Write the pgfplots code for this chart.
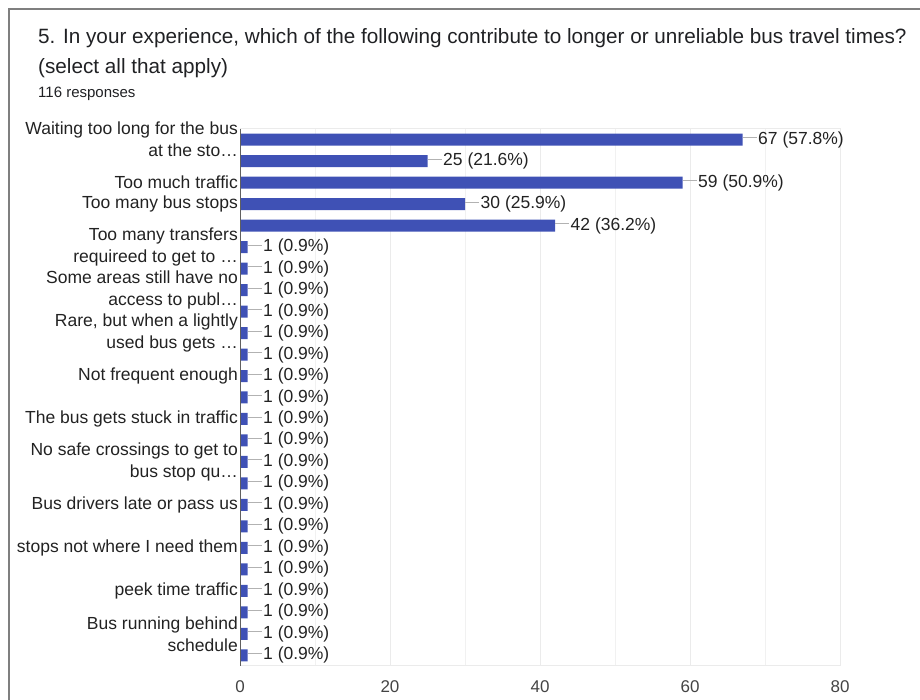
\documentclass[border=0pt]{standalone}
\usepackage{pgfplots}
\pgfplotsset{compat=1.18}
\usepackage{fontspec}
\setmainfont{Liberation Sans}
\definecolor{barblue}{HTML}{3F51B5}
\definecolor{titlecol}{HTML}{202124}
\definecolor{labcol}{HTML}{222222}
\definecolor{tickcol}{HTML}{444444}
\definecolor{gridcol}{HTML}{EBEBEB}
\definecolor{framecol}{HTML}{7F7F7F}
\begin{document}
\begin{tikzpicture}
\useasboundingbox (0pt,0pt) rectangle (920pt,700pt);
\draw[color=framecol, line width=2pt] (9pt,0pt) -- (9pt,691pt) -- (920pt,691pt);
\node[anchor=base west, inner sep=0pt, font=\fontsize{20.7}{22}\selectfont, text=titlecol] at (38pt,656pt) {5. In your experience, which of the following contribute to longer or unreliable bus travel times?};
\node[anchor=base west, inner sep=0pt, font=\fontsize{20.7}{22}\selectfont, text=titlecol] at (38pt,626pt) {(select all that apply)};
\node[anchor=base west, inner sep=0pt, font=\fontsize{15}{17}\selectfont, text=titlecol] at (38pt,602pt) {116 responses};
\begin{axis}[
  at={(240pt,34pt)}, anchor=south west,
  width=600pt, height=537pt, scale only axis,
  xbar, bar width=12pt,
  xmin=0, xmax=80, ymin=-0.5, ymax=24.5,
  xtick={0,20,40,60,80}, minor xtick={10,30,50,70},
  xmajorgrids, xminorgrids,
  major grid style={draw=gridcol, line width=1pt},
  minor grid style={draw=gridcol!70, line width=1pt},
  axis line style={draw=gridcol, line width=1pt},
  major tick length=0pt, minor tick length=0pt,
  /pgf/number format/assume math mode=true,
  xticklabel style={font=\fontsize{17}{19}\selectfont, text=tickcol, yshift=-11pt},
  ytick={1,3,5,7,9,11,13,15,17,19,21,22,24},
  yticklabels={{Bus running behind\\schedule},{peek time traffic},{stops not where I need them},{Bus drivers late or pass us},{No safe crossings to get to\\bus stop qu…},{The bus gets stuck in traffic},{Not frequent enough},{Rare, but when a lightly\\used bus gets …},{Some areas still have no\\access to publ…},{Too many transfers\\requireed to get to …},{Too many bus stops},{Too much traffic},{Waiting too long for the bus\\at the sto…}},
  yticklabel style={align=right, font=\fontsize{17.5}{22}\selectfont, text=labcol, inner sep=1pt, xshift=-1pt},
  point meta=explicit symbolic,
  nodes near coords={\textcolor{gray!60}{\rule[6pt]{14pt}{1pt}}\hspace{1.5pt}\pgfplotspointmeta},
  every node near coord/.append style={font=\fontsize{17.5}{19}\selectfont, text=labcol, anchor=west, inner sep=0pt, xshift=0pt},
  clip=false,
]
\addplot[fill=barblue, draw=none] coordinates {
(67,24) [67 (57.8\%)]
(25,23) [25 (21.6\%)]
(59,22) [59 (50.9\%)]
(30,21) [30 (25.9\%)]
(42,20) [42 (36.2\%)]
(1,19) [1 (0.9\%)]
(1,18) [1 (0.9\%)]
(1,17) [1 (0.9\%)]
(1,16) [1 (0.9\%)]
(1,15) [1 (0.9\%)]
(1,14) [1 (0.9\%)]
(1,13) [1 (0.9\%)]
(1,12) [1 (0.9\%)]
(1,11) [1 (0.9\%)]
(1,10) [1 (0.9\%)]
(1,9) [1 (0.9\%)]
(1,8) [1 (0.9\%)]
(1,7) [1 (0.9\%)]
(1,6) [1 (0.9\%)]
(1,5) [1 (0.9\%)]
(1,4) [1 (0.9\%)]
(1,3) [1 (0.9\%)]
(1,2) [1 (0.9\%)]
(1,1) [1 (0.9\%)]
(1,0) [1 (0.9\%)]
};
\draw[color=gray!75!black, line width=1pt] (axis cs:0,-0.5) -- (axis cs:0,24.5);
\end{axis}
\end{tikzpicture}
\end{document}
